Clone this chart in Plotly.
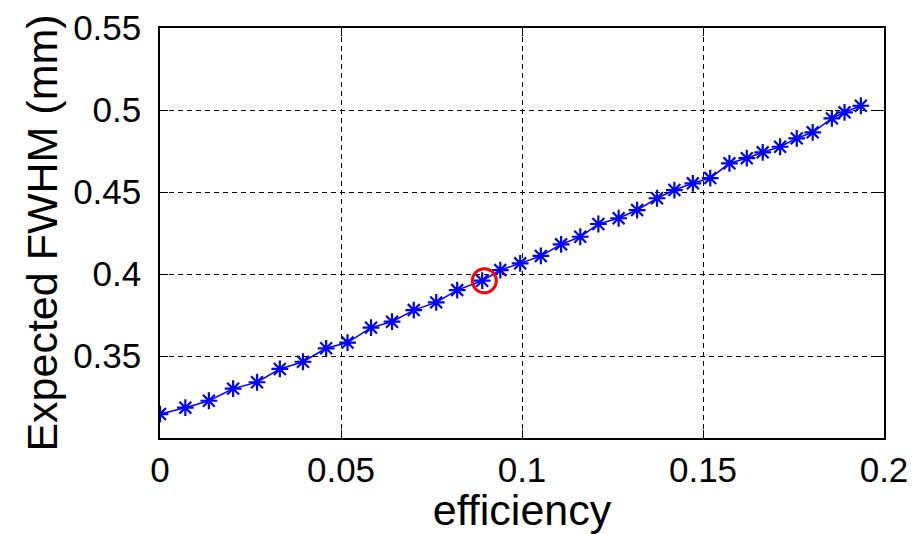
import plotly.graph_objects as go

# Data
efficiency = [0.0000, 0.0070, 0.0135, 0.0202, 0.0268, 0.0331, 0.0395, 0.0459, 0.0518,
              0.0583, 0.0641, 0.0701, 0.0763, 0.0821, 0.0890, 0.0940, 0.0995, 0.1052,
              0.1108, 0.1161, 0.1211, 0.1267, 0.1318, 0.1373, 0.1421, 0.1472, 0.1520,
              0.1573, 0.1621, 0.1665, 0.1713, 0.1759, 0.1803, 0.1856, 0.1891, 0.1936]
fwhm = [0.3146, 0.3185, 0.3227, 0.3301, 0.3340, 0.3421, 0.3465, 0.3547, 0.3582,
        0.3673, 0.3709, 0.3780, 0.3827, 0.3902, 0.3959, 0.4024, 0.4065, 0.4110,
        0.4181, 0.4227, 0.4305, 0.4340, 0.4390, 0.4462, 0.4512, 0.4553, 0.4585,
        0.4675, 0.4706, 0.4742, 0.4776, 0.4827, 0.4864, 0.4949, 0.4986, 0.5026]
selected_x = [0.0896]
selected_y = [0.3959]

x_ticks = [0, 0.05, 0.1, 0.15, 0.2]
x_tick_labels = ["0", "0.05", "0.1", "0.15", "0.2"]
y_ticks = [0.35, 0.4, 0.45, 0.5, 0.55]
y_tick_labels = ["0.35", "0.4", "0.45", "0.5", "0.55"]

fig = go.Figure()
fig.add_trace(go.Scatter(
    x=efficiency, y=fwhm, mode="lines+markers",
    line=dict(color="#0000ff", width=1.5),
    marker=dict(symbol="asterisk-open", size=14, color="#0000ff",
                line=dict(color="#0000ff", width=2.2)),
    showlegend=False,
))
fig.add_trace(go.Scatter(
    x=selected_x, y=selected_y, mode="markers",
    marker=dict(symbol="circle-open", size=24, color="#ff0000",
                line=dict(color="#ff0000", width=3)),
    showlegend=False,
))

font_family = "Liberation Sans, Arial, sans-serif"
fig.update_layout(
    width=916, height=534,
    margin=dict(l=160, r=32, t=28, b=96, autoexpand=False),
    paper_bgcolor="white", plot_bgcolor="white",
    font=dict(family=font_family, color="black"),
    xaxis=dict(
        range=[0, 0.2], tickvals=x_ticks, ticktext=x_tick_labels,
        ticks="inside", ticklen=8, tickcolor="black", tickwidth=1,
        tickfont=dict(size=35, family=font_family, color="black"),
        showline=True, linecolor="black", linewidth=1.5, mirror="ticks",
        showgrid=True, gridcolor="black", gridwidth=1.2, griddash="5px,4px",
        zeroline=False, ticklabelstandoff=0,
        title=dict(text="efficiency", font=dict(size=43, family=font_family, color="black"),
                   standoff=21),
    ),
    yaxis=dict(
        range=[0.30, 0.55], tickvals=y_ticks, ticktext=y_tick_labels,
        ticks="inside", ticklen=8, tickcolor="black", tickwidth=1,
        tickfont=dict(size=35, family=font_family, color="black"),
        showline=True, linecolor="black", linewidth=1.5, mirror="ticks",
        showgrid=True, gridcolor="black", gridwidth=1.2, griddash="5px,4px",
        zeroline=False, ticklabelstandoff=10,
        title=dict(text="Expected FWHM (mm)", font=dict(size=43, family=font_family, color="black"),
                   standoff=2),
    ),
)

fig.write_html("out.html")
